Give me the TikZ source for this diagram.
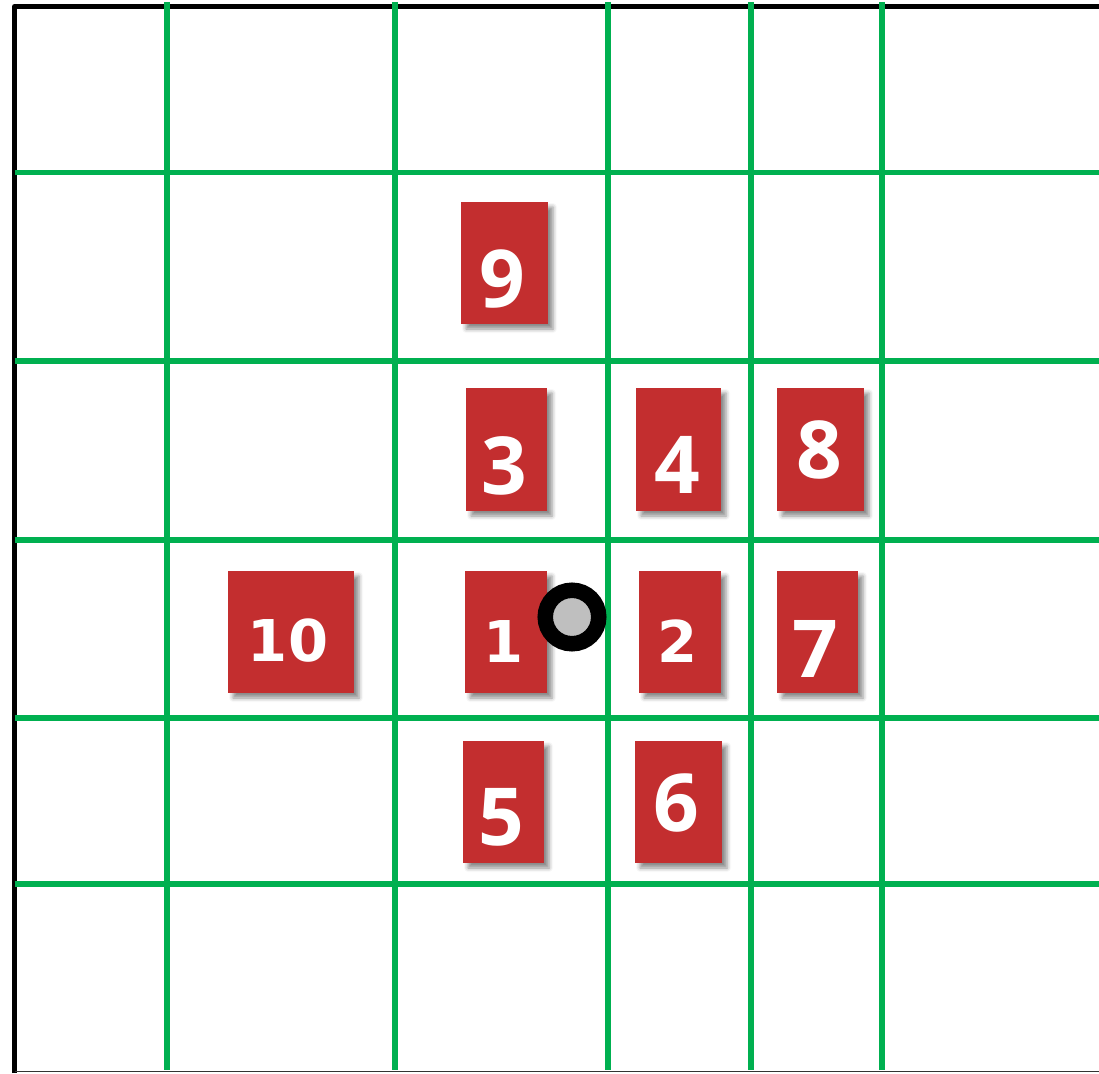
\documentclass[tikz,border=0pt]{standalone}
\usepackage{fontspec}
\usepackage{xcolor}
\usepackage{tikz}
\usetikzlibrary{shadows,shadows.blur}
\definecolor{GridGreen}{HTML}{00B050}
\definecolor{CardRed}{HTML}{C32E2F}
\definecolor{DotGrey}{HTML}{BFBFBF}
\newfontfamily\slabnum{DejaVu Sans}
\newfontfamily\plainnum{Open Sans}

\begin{document}
\begin{tikzpicture}[x=1pt,y=-1pt,
  gridline/.style={line width=5.5pt,color=GridGreen},
  frame/.style={line width=5pt,color=black,line join=round},
  card/.style={fill=CardRed,inner sep=0pt,
    blur shadow={shadow xshift=5pt,shadow yshift=-5pt,shadow blur radius=4pt,shadow opacity=45}},
  numa/.style={inner sep=0pt,text=white,font=\slabnum\bfseries\fontsize{57.6}{60}\selectfont},
  numb/.style={inner sep=0pt,text=white,font=\plainnum\bfseries\fontsize{80}{84}\selectfont},
  marker/.style={circle,fill=DotGrey,draw=black,line width=15.5pt,minimum size=53.5pt,inner sep=0pt,
    blur shadow={shadow xshift=3pt,shadow yshift=-3pt,shadow blur radius=3pt,shadow opacity=40}}]
\useasboundingbox (0,0) rectangle (1099,1073);
% outer frame
\draw[frame] (14.5,1073) -- (14.5,6.5) -- (1099,6.5);
\draw[line width=1.5pt,color=black!80] (14.5,1071.5) -- (1099,1071.5);
% grid
\foreach \gx in {167,395,608,751,882}
  \draw[gridline] (\gx,2) -- (\gx,1070);
\foreach \gy in {172.5,361,540,718,884}
  \draw[gridline] (14.5,\gy) -- (1099,\gy);
% cards
\node[card,minimum width=87pt,minimum height=122pt] (c9) at (504.5,263) {};
\node[card,minimum width=81pt,minimum height=123pt] (c3) at (506.5,449.5) {};
\node[card,minimum width=85pt,minimum height=123pt] (c4) at (678.5,449.5) {};
\node[card,minimum width=87pt,minimum height=123pt] (c8) at (820.5,449.5) {};
\node[card,minimum width=126pt,minimum height=122pt] (c10) at (291,632) {};
\node[card,minimum width=82pt,minimum height=122pt] (c1) at (506,632) {};
\node[card,minimum width=82pt,minimum height=122pt] (c2) at (680,632) {};
\node[card,minimum width=81pt,minimum height=122pt] (c7) at (817.5,632) {};
\node[card,minimum width=81pt,minimum height=122pt] (c5) at (503.5,802) {};
\node[card,minimum width=87pt,minimum height=122pt] (c6) at (678.5,802) {};
% numbers
\node[numb] (n9) at (502,279) {9};
\node[numb] (n3) at (504,466) {3};
\node[numb] (n4) at (677,465) {4};
\node[numb] (n8) at (819.5,450) {8};
\node[numa] (n10) at (288,641) {10};
\node[numa] (n1) at (504,641) {1};
\node[numa] (n2) at (678,641) {2};
\node[numb] (n7) at (815,648.5) {7};
\node[numb] (n5) at (501.5,817.5) {5};
\node[numb] (n6) at (676,802.5) {6};
% observer
\node[marker] (dot) at (572,617) {};
\end{tikzpicture}
\end{document}
